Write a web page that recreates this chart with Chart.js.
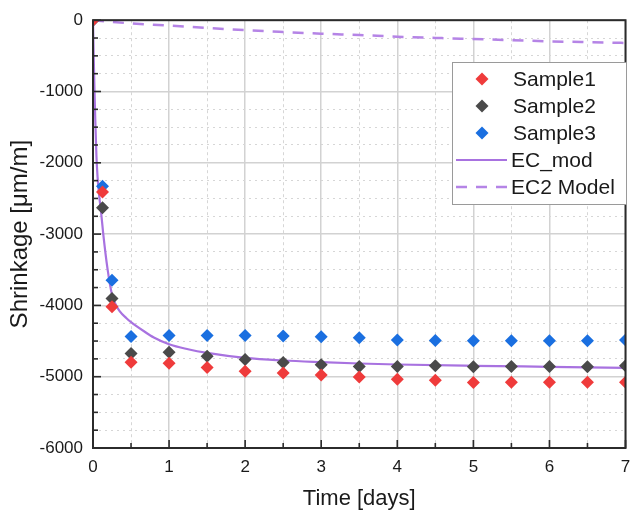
<!DOCTYPE html>
<html><head><meta charset="utf-8">
<script src="https://cdn.jsdelivr.net/npm/chart.js@4/dist/chart.umd.min.js"></script>
<style>html,body{margin:0;padding:0;background:#fff}#wrap{width:632px;height:515px}</style>
</head><body><div id="wrap"><canvas id="c" width="632" height="515"></canvas></div>
<script>
// ---- data ----
const days = [0, 0.125, 0.25, 0.5, 1, 1.5, 2, 2.5, 3, 3.5, 4, 4.5, 5, 5.5, 6, 6.5, 7];
const sample1 = [0, -2411, -4018, -4796, -4810, -4870, -4925, -4949, -4976, -5004, -5036, -5050, -5083, -5078, -5078, -5078, -5078];
const sample2 = [0, -2629, -3903, -4675, -4657, -4712, -4759, -4800, -4833, -4856, -4856, -4847, -4861, -4856, -4856, -4861, -4847];
const sample3 = [0, -2328, -3648, -4435, -4421, -4421, -4421, -4430, -4440, -4454, -4486, -4491, -4495, -4495, -4495, -4495, -4486];
const ecModDays = [0, 0.01, 0.02, 0.03, 0.045, 0.06, 0.08, 0.105, 0.135, 0.19, 0.25, 0.29, 0.35, 0.44, 0.5, 0.68, 0.8, 1, 1.25, 1.5, 2, 2.5, 3, 3.5, 4, 5, 6, 7];
const ecMod = [0, -550, -1000, -1400, -1900, -2200, -2450, -2680, -3000, -3480, -3850, -3970, -4080, -4180, -4235, -4370, -4450, -4545, -4615, -4666, -4736, -4773, -4796, -4815, -4829, -4847, -4861, -4875];
const ec2Days = [0, 0.5, 1, 1.5, 2, 2.5, 3, 3.5, 4, 4.5, 5, 5.5, 6, 6.5, 7];
const ec2 = [0, -45, -74, -108, -139, -165, -189, -208, -231, -248, -264, -280, -296, -308, -319];
const seriesNames = ['Sample1', 'Sample2', 'Sample3', 'EC_mod', 'EC2 Model'];
const xRange = [0, 7];
const yRange = [-6000, 0];

const pts = (xs, ys) => xs.map((x, i) => ({x: x, y: ys[i]}));
const FONT = "'Liberation Sans', Arial, sans-serif";
const cRed = '#ef3b3b', cGray = '#4a4a4a', cBlue = '#1a6fe0', cMod = '#a872e0', cEc2 = '#b584e6';

const sampleDs = (label, data, color) => ({
  label: label, data: pts(days, data), showLine: false,
  pointStyle: 'rectRot', pointRadius: 6.5, pointHoverRadius: 6.5,
  backgroundColor: color, borderColor: color, pointBorderWidth: 0, clip: 0, order: 1
});

const frameAndTicks = {
  id: 'frameAndTicks',
  afterDatasetsDraw(chart) {
    const {ctx, chartArea: a, scales} = chart;
    ctx.save();
    ctx.strokeStyle = '#2b2b2b';
    ctx.lineWidth = 1.6;
    const ys = scales.y2;
    ys.ticks.forEach(t => {
      const p = ys.getPixelForValue(t.value);
      const len = (t.value % 1000 === 0) ? 8 : 5;
      ctx.beginPath(); ctx.moveTo(a.left, p); ctx.lineTo(a.left + len, p); ctx.stroke();
    });
    const xs = scales.x2;
    xs.ticks.forEach(t => {
      const p = xs.getPixelForValue(t.value);
      const len = (t.value % 1 === 0) ? 8 : 5;
      ctx.beginPath(); ctx.moveTo(p, a.bottom); ctx.lineTo(p, a.bottom - len); ctx.stroke();
    });
    ctx.lineWidth = 2;
    ctx.strokeRect(a.left, a.top, a.right - a.left, a.bottom - a.top);
    ctx.restore();
  },
  afterDraw(chart) {
    const {ctx} = chart;
    const bx = 452, by = 62, bw = 174, bh = 142;
    ctx.save();
    ctx.fillStyle = '#fff';
    ctx.fillRect(bx, by, bw, bh);
    ctx.strokeStyle = '#9a9a9a'; ctx.lineWidth = 1;
    ctx.strokeRect(bx + 0.5, by + 0.5, bw, bh);
    const rowY = [79, 106, 133, 160, 187];
    ctx.font = '21px ' + FONT;
    ctx.textBaseline = 'middle';
    ctx.fillStyle = '#1a1a1a';
    chart.data.datasets.forEach((ds, i) => {
      const y = rowY[i];
      ctx.save();
      if (ds.showLine === false) {
        const r = 6.5, cx = 482;
        ctx.fillStyle = ds.backgroundColor;
        ctx.beginPath();
        ctx.moveTo(cx, y - r); ctx.lineTo(cx + r, y); ctx.lineTo(cx, y + r); ctx.lineTo(cx - r, y); ctx.closePath();
        ctx.fill();
      } else {
        ctx.strokeStyle = ds.borderColor; ctx.lineWidth = ds.borderWidth;
        ctx.setLineDash(ds.borderDash || []);
        ctx.beginPath(); ctx.moveTo(456, y); ctx.lineTo(507, y); ctx.stroke();
      }
      ctx.restore();
      ctx.fillText(ds.label, ds.showLine === false ? 513 : 511, y + 1);
    });
    ctx.restore();
  }
};

const minorGrid = (isMajor) => (c) => (c.tick && isMajor(c.tick.value)) ? 'rgba(0,0,0,0)' : '#d6d6d6';

new Chart(document.getElementById('c'), {
  type: 'scatter',
  data: {
    datasets: [
      sampleDs(seriesNames[0], sample1, cRed),
      sampleDs(seriesNames[1], sample2, cGray),
      sampleDs(seriesNames[2], sample3, cBlue),
      { label: seriesNames[3], data: pts(ecModDays, ecMod), showLine: true, borderColor: cMod, backgroundColor: cMod,
        borderWidth: 2.2, pointRadius: 0, cubicInterpolationMode: 'monotone', clip: 0, order: 2 },
      { label: seriesNames[4], data: pts(ec2Days, ec2), showLine: true, borderColor: cEc2, backgroundColor: cEc2,
        borderWidth: 2.5, borderDash: [11, 9], pointRadius: 0, cubicInterpolationMode: 'monotone', clip: 0, order: 2 }
    ]
  },
  options: {
    responsive: false, animation: false, devicePixelRatio: 1,
    layout: { padding: { top: 16, right: 4, left: 0, bottom: 0 } },
    plugins: { legend: { display: false }, tooltip: { enabled: false } },
    scales: {
      x: {
        type: 'linear', position: 'bottom', min: xRange[0], max: xRange[1],
        ticks: { stepSize: 1, padding: 9, color: '#1a1a1a', font: { size: 17, family: FONT }, maxRotation: 0, autoSkip: false },
        grid: { color: '#d2d2d2', lineWidth: 1.5, drawTicks: false },
        border: { display: false },
        title: { display: true, text: 'Time [days]', color: '#1a1a1a', font: { size: 22, family: FONT }, padding: { top: 0, bottom: 3 } },
        afterFit(s) { s.height = 67; s.paddingLeft = 0; s.paddingRight = 0; }
      },
      x2: {
        type: 'linear', position: 'bottom', min: xRange[0], max: xRange[1], display: true,
        ticks: { stepSize: 0.5, display: false },
        grid: { color: minorGrid(v => v % 1 === 0), lineWidth: 1, drawTicks: false },
        border: { display: false, dash: [3, 3] },
        afterFit(s) { s.height = 0; }
      },
      y: {
        type: 'linear', position: 'left', min: yRange[0], max: yRange[1],
        ticks: { stepSize: 1000, padding: 10, color: '#1a1a1a', font: { size: 17, family: FONT }, callback: v => String(v) },
        grid: { color: '#d2d2d2', lineWidth: 1.5, drawTicks: false },
        border: { display: false },
        title: { display: true, text: 'Shrinkage [\u03bcm/m]', color: '#1a1a1a', font: { size: 24, family: FONT }, padding: { top: 6, bottom: 0 } },
        afterFit(s) { s.width = 93; }
      },
      y2: {
        type: 'linear', position: 'left', min: yRange[0], max: yRange[1], display: true,
        ticks: { stepSize: 250, display: false },
        grid: { color: minorGrid(v => v % 1000 === 0), lineWidth: 1, drawTicks: false },
        border: { display: false, dash: [2, 4] },
        afterFit(s) { s.width = 0; }
      }
    }
  },
  plugins: [frameAndTicks]
});
</script>
</body></html>
